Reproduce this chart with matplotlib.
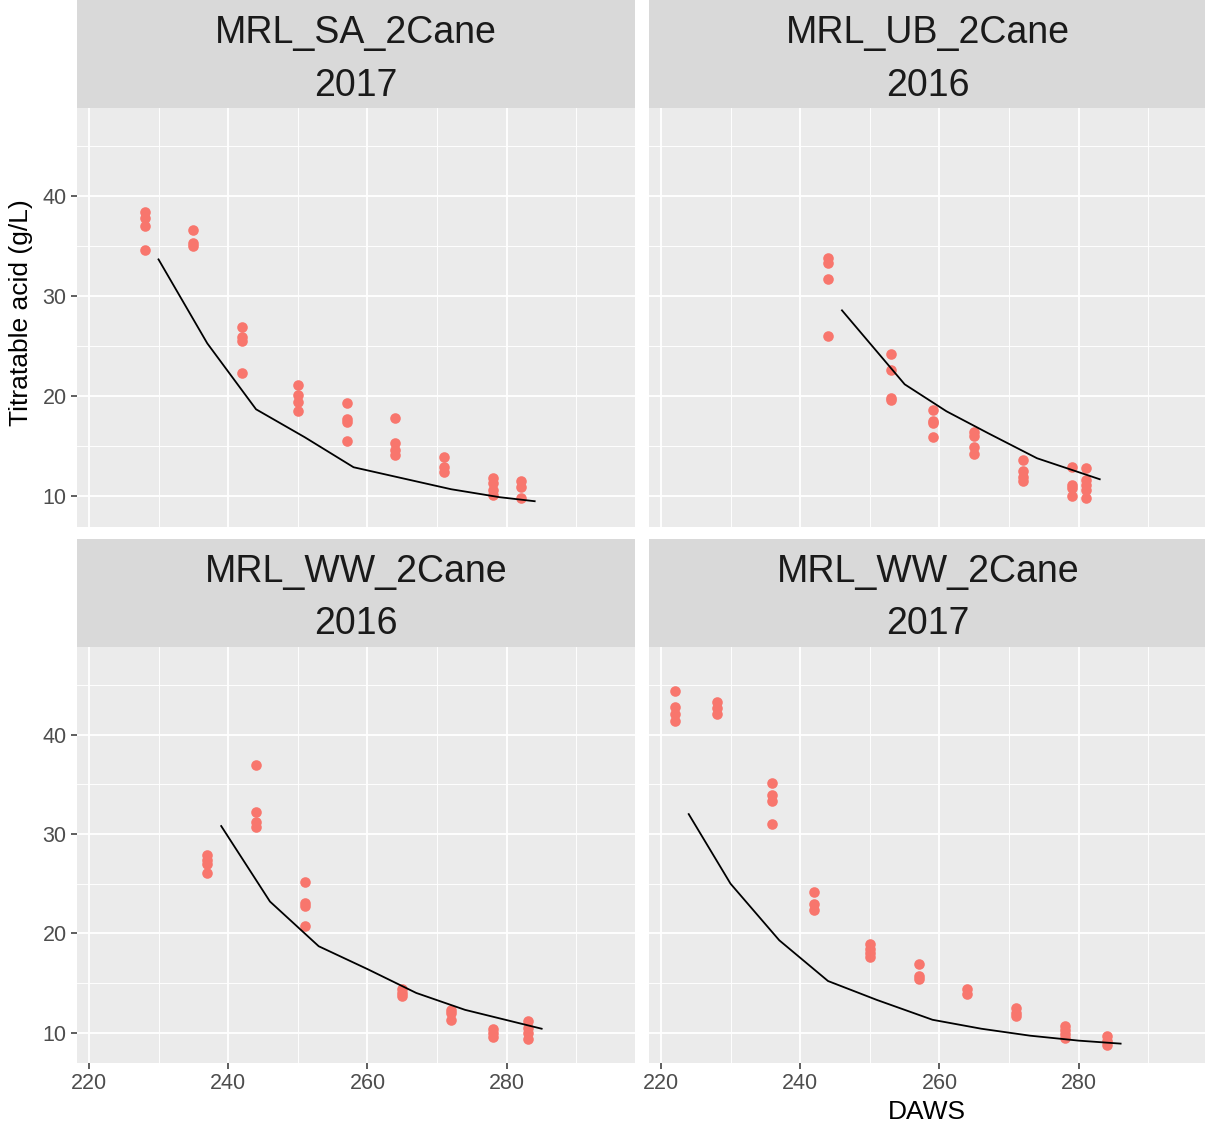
import matplotlib
matplotlib.use('Agg')
import matplotlib.pyplot as plt
from matplotlib.ticker import MultipleLocator

plt.rcParams['font.family'] = ['Liberation Sans', 'DejaVu Sans']

# observed titratable acid per panel (DAWS, g/L)
sa17_daws = [228, 228, 228, 228, 235, 235, 235, 242, 242, 242, 242,
             250, 250, 250, 250, 257, 257, 257, 257, 264, 264, 264, 264,
             271, 271, 271, 278, 278, 278, 278, 282, 282, 282]
sa17_ta = [38.4, 37.8, 37.0, 34.6, 36.6, 35.3, 35.0, 26.9, 25.9, 25.5, 22.3,
           21.1, 20.1, 19.4, 18.5, 19.3, 17.7, 17.4, 15.5, 17.8, 15.3, 14.6, 14.1,
           13.9, 12.9, 12.4, 11.8, 11.3, 10.6, 10.1, 11.5, 10.9, 9.8]

ub16_daws = [244, 244, 244, 244, 253, 253, 253, 253, 259, 259, 259, 259,
             265, 265, 265, 265, 272, 272, 272, 272, 279, 279, 279, 279,
             281, 281, 281, 281, 281]
ub16_ta = [33.8, 33.3, 31.7, 26.0, 24.2, 22.6, 19.8, 19.6, 18.6, 17.5, 17.3, 15.9,
           16.4, 16.0, 14.9, 14.2, 13.6, 12.5, 11.9, 11.5, 12.9, 11.1, 10.8, 10.0,
           12.8, 11.6, 11.1, 10.6, 9.85]

ww16_daws = [237, 237, 237, 237, 244, 244, 244, 244, 251, 251, 251, 251,
             265, 265, 265, 272, 272, 272, 278, 278, 278, 283, 283, 283, 283]
ww16_ta = [27.9, 27.4, 27.0, 26.1, 36.9, 32.2, 31.2, 30.7, 25.2, 23.1, 22.8, 20.7,
           14.4, 14.0, 13.7, 12.3, 12.0, 11.3, 10.4, 10.0, 9.6, 11.2, 10.5, 10.0, 9.4]

ww17_daws = [222, 222, 222, 222, 228, 228, 228, 236, 236, 236, 236,
             242, 242, 242, 250, 250, 250, 250, 257, 257, 257, 264, 264,
             271, 271, 271, 278, 278, 278, 278, 284, 284, 284]
ww17_ta = [44.4, 42.8, 42.1, 41.4, 43.3, 42.7, 42.1, 35.1, 33.9, 33.3, 31.0,
           24.2, 23.0, 22.3, 18.9, 18.4, 18.0, 17.6, 16.9, 15.7, 15.4, 14.4, 13.9,
           12.5, 12.0, 11.7, 10.7, 10.3, 9.9, 9.5, 9.7, 9.2, 8.8]

# model curves
sa17_fit_daws = [230, 237, 244, 251, 258, 265, 272, 279, 284]
sa17_fit_ta = [33.7, 25.3, 18.7, 15.9, 12.9, 11.8, 10.7, 9.9, 9.5]

ub16_fit_daws = [246, 255, 261, 267, 274, 283]
ub16_fit_ta = [28.6, 21.2, 18.5, 16.3, 13.8, 11.7]

ww16_fit_daws = [239, 246, 253, 260, 267, 274, 285]
ww16_fit_ta = [30.8, 23.2, 18.7, 16.4, 14.0, 12.3, 10.4]

ww17_fit_daws = [224, 230, 237, 244, 251, 259, 266, 273, 280, 286]
ww17_fit_ta = [32.0, 25.0, 19.3, 15.2, 13.3, 11.3, 10.4, 9.7, 9.2, 8.9]

panels = [
    ('MRL_SA_2Cane\n2017', sa17_daws, sa17_ta, sa17_fit_daws, sa17_fit_ta),
    ('MRL_UB_2Cane\n2016', ub16_daws, ub16_ta, ub16_fit_daws, ub16_fit_ta),
    ('MRL_WW_2Cane\n2016', ww16_daws, ww16_ta, ww16_fit_daws, ww16_fit_ta),
    ('MRL_WW_2Cane\n2017', ww17_daws, ww17_ta, ww17_fit_daws, ww17_fit_ta),
]

W, H = 1205, 1128
fig = plt.figure(figsize=(W / 100, H / 100), dpi=100)


def box(x0, y0, x1, y1):
    # pixel box (top-left origin) -> figure fraction rect
    return [x0 / W, 1 - y1 / H, (x1 - x0) / W, (y1 - y0) / H]


cols = [(77, 635), (649, 1207)]
rows = [((0, 108), (108, 526.7)), ((539, 646.7), (646.7, 1063))]

for k, (title, px, py, fx, fy) in enumerate(panels):
    r, c = divmod(k, 2)
    x0, x1 = cols[c]
    (s0, s1), (p0, p1) = rows[r]

    strip = fig.add_axes(box(x0, s0, x1, s1))
    strip.set_facecolor('#D9D9D9')
    strip.set_xticks([])
    strip.set_yticks([])
    for sp in strip.spines.values():
        sp.set_visible(False)
    strip.text(0.5, 0.45, title, ha='center', va='center', fontsize=27,
               color='#1A1A1A', linespacing=1.58, transform=strip.transAxes)

    ax = fig.add_axes(box(x0, p0, x1, p1))
    ax.set_facecolor('#EBEBEB')
    ax.set_xlim(218.3, 298.4)
    ax.set_ylim(6.95, 48.85)
    ax.xaxis.set_major_locator(MultipleLocator(20))
    ax.xaxis.set_minor_locator(MultipleLocator(10))
    ax.yaxis.set_major_locator(MultipleLocator(10))
    ax.yaxis.set_minor_locator(MultipleLocator(5))
    ax.grid(which='major', color='white', linewidth=1.3)
    ax.grid(which='minor', color='white', linewidth=0.65)
    ax.set_axisbelow(True)
    for sp in ax.spines.values():
        sp.set_visible(False)

    ax.tick_params(which='minor', length=0)
    ax.tick_params(which='major', length=4.5, width=1.1, color='#333333',
                   labelcolor='#4D4D4D', labelsize=15.5, pad=3)
    if c == 1:
        ax.tick_params(axis='y', which='major', length=0, labelleft=False)
    if r == 0:
        ax.tick_params(axis='x', which='major', length=0, labelbottom=False)

    ax.scatter(px, py, s=58, color='#F8766D', linewidths=0, zorder=3)
    ax.plot(fx, fy, color='black', linewidth=1.3, zorder=4)

fig.text(21 / W, 1 - 313 / H, 'Titratable acid (g/L)', rotation=90,
         ha='center', va='center', fontsize=19, color='black')
fig.text(927 / W, 1 - 1119 / H, 'DAWS', ha='center', va='baseline',
         fontsize=19, color='black')

fig.savefig('out.png', dpi=100, facecolor='white')
